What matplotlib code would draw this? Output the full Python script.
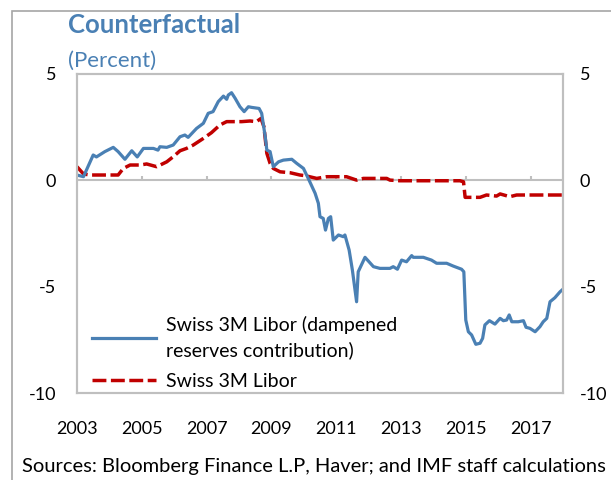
import matplotlib
matplotlib.use('Agg')
import matplotlib.pyplot as plt
from matplotlib.patches import Rectangle

plt.rcParams['font.family'] = ['Lato', 'DejaVu Sans']
plt.rcParams['axes.unicode_minus'] = False

# Data (decimal year, percent)
dampened_years = [2003.0, 2003.2, 2003.5, 2003.6, 2003.86, 2004.12, 2004.27, 2004.48, 2004.69, 2004.86,
                  2005.05, 2005.36, 2005.5, 2005.56, 2005.77, 2005.97, 2006.18, 2006.33, 2006.43, 2006.69,
                  2006.9, 2007.05, 2007.2, 2007.36, 2007.52, 2007.62, 2007.67, 2007.77, 2007.88, 2008.03,
                  2008.16, 2008.29, 2008.39, 2008.62, 2008.7, 2008.81, 2008.86, 2008.96, 2009.06, 2009.22,
                  2009.37, 2009.63, 2009.78, 2009.99, 2010.15, 2010.35, 2010.45, 2010.5, 2010.6, 2010.67,
                  2010.76, 2010.83, 2010.91, 2011.07, 2011.22, 2011.27, 2011.4, 2011.5, 2011.63, 2011.68,
                  2011.89, 2012.15, 2012.35, 2012.66, 2012.76, 2012.89, 2013.02, 2013.17, 2013.33, 2013.38,
                  2013.69, 2013.94, 2014.1, 2014.41, 2014.61, 2014.87, 2014.94, 2015.0, 2015.08, 2015.18,
                  2015.31, 2015.44, 2015.52, 2015.59, 2015.73, 2015.9, 2016.06, 2016.16, 2016.26, 2016.34,
                  2016.42, 2016.62, 2016.78, 2016.86, 2016.98, 2017.14, 2017.29, 2017.39, 2017.5, 2017.6,
                  2017.75, 2017.91, 2018.0]
dampened_vals = [0.25, 0.17, 1.19, 1.1, 1.35, 1.55, 1.35, 0.99, 1.39, 1.1,
                 1.5, 1.5, 1.42, 1.58, 1.55, 1.66, 2.05, 2.13, 2.02, 2.44,
                 2.68, 3.15, 3.23, 3.7, 3.96, 3.81, 4.01, 4.12, 3.86, 3.46,
                 3.23, 3.46, 3.43, 3.38, 3.15, 2.05, 1.42, 1.35, 0.64, 0.87,
                 0.95, 0.99, 0.8, 0.56, 0.05, -0.61, -1.08, -1.71, -1.79, -2.34,
                 -1.79, -1.71, -2.81, -2.57, -2.65, -2.57, -3.28, -4.22, -5.71, -4.3,
                 -3.62, -4.06, -4.14, -4.14, -4.06, -4.18, -3.75, -3.83, -3.54, -3.62,
                 -3.62, -3.75, -3.9, -3.9, -4.03, -4.18, -4.3, -6.57, -7.12, -7.27,
                 -7.71, -7.66, -7.43, -6.8, -6.6, -6.76, -6.49, -6.6, -6.57, -6.33,
                 -6.65, -6.65, -6.6, -6.91, -6.96, -7.12, -6.88, -6.65, -6.49, -5.71,
                 -5.52, -5.24, -5.12]

libor_years = [2003.0, 2003.2, 2003.4, 2004.27, 2004.43, 2004.64, 2004.95, 2005.15, 2005.46, 2005.77,
               2005.97, 2006.18, 2006.38, 2006.59, 2006.9, 2007.15, 2007.41, 2007.62, 2007.93, 2008.08,
               2008.34, 2008.54, 2008.68, 2008.77, 2008.86, 2008.96, 2009.06, 2009.27, 2009.57, 2009.88,
               2010.04, 2010.4, 2010.71, 2011.32, 2011.63, 2011.84, 2012.56, 2012.66, 2012.97, 2014.82,
               2014.93, 2014.98, 2015.24, 2015.44, 2015.64, 2015.95, 2016.06, 2016.36, 2016.57, 2018.0]
libor_vals = [0.64, 0.3, 0.25, 0.25, 0.56, 0.72, 0.72, 0.77, 0.64, 0.87,
              1.11, 1.39, 1.5, 1.66, 1.97, 2.24, 2.6, 2.76, 2.76, 2.76,
              2.79, 2.76, 2.91, 2.52, 1.27, 0.8, 0.56, 0.4, 0.36, 0.25,
              0.22, 0.09, 0.17, 0.17, 0.01, 0.09, 0.09, 0.01, -0.02, -0.02,
              -0.07, -0.8, -0.8, -0.8, -0.69, -0.74, -0.64, -0.77, -0.69, -0.69]

x_ticks = [2003, 2005, 2007, 2009, 2011, 2013, 2015, 2017]
y_ticks = [5, 0, -5, -10]

BLUE = '#4A80B4'
RED = '#C00000'
GRID = '#BFBFBF'

fig = plt.figure(figsize=(6.11, 4.80), dpi=100)
ax = fig.add_axes([0.126, 0.18125, 0.7954, 0.6646])

ax.axhline(0, color=GRID, lw=1.5, zorder=1)
ax.vlines(x_ticks[1:], 0, 0.2, color=GRID, lw=1.5, zorder=1)

ax.plot(dampened_years, dampened_vals, color=BLUE, lw=2.3, solid_joinstyle='round',
        label='Swiss 3M Libor (dampened\nreserves contribution)', zorder=3)
ax.plot(libor_years, libor_vals, color=RED, lw=2.5, dashes=(4, 1.3),
        label='Swiss 3M Libor', zorder=2)

ax.set_xlim(2003, 2018)
ax.set_ylim(-10, 5)
ax.set_xticks(x_ticks)
ax.set_yticks(y_ticks)
ax.tick_params(axis='x', length=0, pad=20, labelsize=13)
ax.tick_params(axis='y', length=0, pad=15, labelsize=13)

# right-hand labels sit closer to the frame
ax2 = ax.twinx()
ax2.set_ylim(-10, 5)
ax2.set_yticks(y_ticks)
ax2.tick_params(axis='y', length=0, pad=12, labelsize=13)

for a in (ax, ax2):
    for s in a.spines.values():
        s.set_color(GRID)
        s.set_linewidth(1.5)

leg = ax.legend(loc='lower left', bbox_to_anchor=(0.025, 0.0), frameon=False,
                fontsize=14, handlelength=3.3, handletextpad=0.5, labelspacing=0.7,
                borderpad=0.15, borderaxespad=0)
for t in leg.get_texts():
    t.set_linespacing(1.5)

fig.text(0.1113, 0.931, 'Counterfactual', color=BLUE, fontsize=18.5, fontweight='bold', va='baseline')
fig.text(0.1113, 0.860, '(Percent)', color=BLUE, fontsize=16, va='baseline')
fig.text(0.036, 0.0167, 'Sources: Bloomberg Finance L.P, Haver; and IMF staff calculations',
         fontsize=14.5, va='baseline')

# outer frame of the figure panel
fig.patches.append(Rectangle((12 / 611, -0.1), 1.2, 1.1 - 11 / 480, transform=fig.transFigure,
                             fill=False, edgecolor='#A6A6A6', lw=1.2))

fig.savefig('out.png', dpi=100)
